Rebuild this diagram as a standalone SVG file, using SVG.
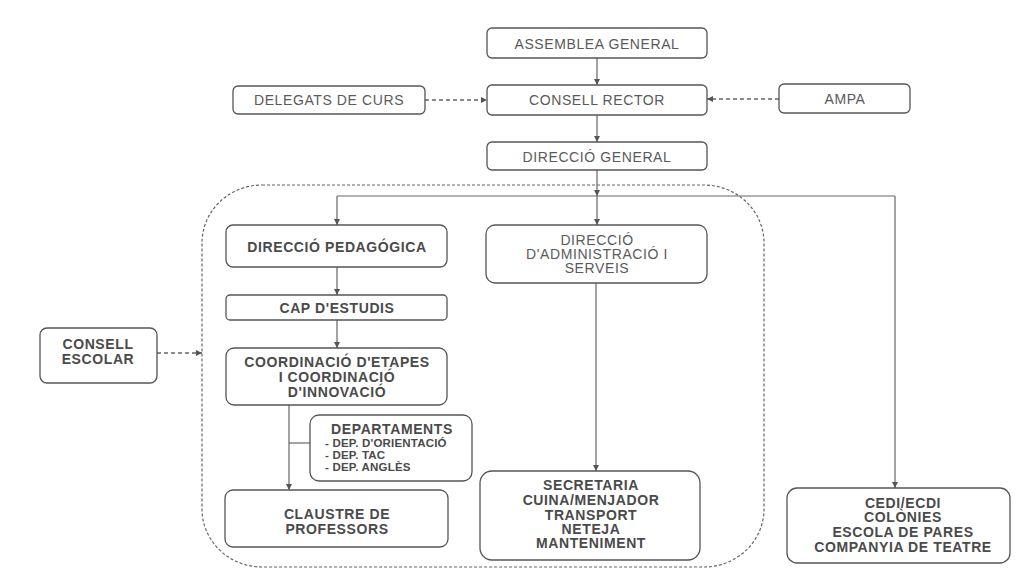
<svg xmlns="http://www.w3.org/2000/svg" width="1033" height="583" viewBox="0 0 1033 583">
<defs>
<marker id="ah" markerUnits="userSpaceOnUse" markerWidth="8" markerHeight="8" refX="6" refY="3" orient="auto">
<path d="M0,0 L6,3 L0,6 Z" fill="#555"/>
</marker>
<style>
.box{fill:#fff;stroke:#555;stroke-width:1.3}
.t{font-family:"Liberation Sans",Arial,sans-serif;font-size:14px;fill:#5a5a5a;text-anchor:middle;dominant-baseline:central;letter-spacing:0.6px}
.b{font-weight:bold;fill:#4a4a4a}
.s{font-family:"Liberation Sans",Arial,sans-serif;font-size:11.5px;font-weight:bold;fill:#4a4a4a;dominant-baseline:central;letter-spacing:0.2px}
.ln{fill:none;stroke:#666;stroke-width:1.2}
.dl{fill:none;stroke:#666;stroke-width:1.3;stroke-dasharray:4 3}
.cont{fill:none;stroke:#666;stroke-width:1.2;stroke-dasharray:3 2}
</style>
</defs>
<rect width="1033" height="583" fill="#fff"/>
<g id="container">
<rect class="cont" x="202" y="185" width="562" height="382" rx="60" ry="58"/>
</g>
<g id="connectors">
<line class="ln" x1="597" y1="58" x2="597" y2="85" marker-end="url(#ah)"/>
<line class="ln" x1="597" y1="115" x2="597" y2="142" marker-end="url(#ah)"/>
<line class="dl" x1="425" y1="100" x2="487" y2="100" marker-end="url(#ah)"/>
<line class="dl" x1="779" y1="99" x2="707" y2="99" marker-end="url(#ah)"/>
<line class="ln" x1="597" y1="170" x2="597" y2="196" marker-end="url(#ah)"/>
<line class="ln" x1="337" y1="196" x2="895" y2="196"/>
<line class="ln" x1="337" y1="196" x2="337" y2="225" marker-end="url(#ah)"/>
<line class="ln" x1="895" y1="196" x2="895" y2="488" marker-end="url(#ah)"/>
<line class="ln" x1="597" y1="196" x2="597" y2="225" marker-end="url(#ah)"/>
<line class="ln" x1="337" y1="267" x2="337" y2="295" marker-end="url(#ah)"/>
<line class="ln" x1="337" y1="320" x2="337" y2="348" marker-end="url(#ah)"/>
<line class="ln" x1="596" y1="283" x2="596" y2="471" marker-end="url(#ah)"/>
<line class="ln" x1="289" y1="405" x2="289" y2="490" marker-end="url(#ah)"/>
<line class="ln" x1="289" y1="443" x2="310" y2="443"/>
<line class="dl" x1="157" y1="353" x2="202" y2="353" marker-end="url(#ah)"/>
</g>
<g id="assemblea">
<rect class="box" x="487" y="28" width="220" height="30" rx="5"/>
<text class="t" x="597" y="44">ASSEMBLEA GENERAL</text>
</g>
<g id="consell-rector">
<rect class="box" x="487" y="85" width="220" height="30" rx="5"/>
<text class="t" x="597" y="100">CONSELL RECTOR</text>
</g>
<g id="delegats">
<rect class="box" x="233" y="86" width="192" height="28" rx="5"/>
<text class="t" x="329" y="100">DELEGATS DE CURS</text>
</g>
<g id="ampa">
<rect class="box" x="779" y="84" width="131" height="29" rx="5"/>
<text class="t" x="845" y="99">AMPA</text>
</g>
<g id="direccio-general">
<rect class="box" x="487" y="142" width="220" height="28" rx="5"/>
<text class="t" x="597" y="157">DIRECCIÓ GENERAL</text>
</g>
<g id="direccio-pedagogica">
<rect class="box" x="226" y="225" width="221" height="42" rx="7"/>
<text class="t b" x="337" y="247">DIRECCIÓ PEDAGÓGICA</text>
</g>
<g id="direccio-admin">
<rect class="box" x="486" y="225" width="221" height="58" rx="9"/>
<text class="t" x="597" y="240">DIRECCIÓ</text>
<text class="t" x="597" y="254">D'ADMINISTRACIÓ I</text>
<text class="t" x="597" y="268">SERVEIS</text>
</g>
<g id="cap-estudis">
<rect class="box" x="226" y="295" width="221" height="25" rx="4"/>
<text class="t b" x="337" y="308">CAP D'ESTUDIS</text>
</g>
<g id="consell-escolar">
<rect class="box" x="40" y="328" width="117" height="55" rx="7"/>
<text class="t b" x="98" y="344">CONSELL</text>
<text class="t b" x="98" y="359">ESCOLAR</text>
</g>
<g id="coordinacio">
<rect class="box" x="226" y="348" width="221" height="57" rx="8"/>
<text class="t b" x="337" y="362">COORDINACIÓ D'ETAPES</text>
<text class="t b" x="337" y="377">I COORDINACIÓ</text>
<text class="t b" x="337" y="392">D'INNOVACIÓ</text>
</g>
<g id="departaments">
<rect class="box" x="310" y="415" width="162" height="66" rx="9"/>
<text class="t b" x="392" y="429">DEPARTAMENTS</text>
<text class="s" x="325" y="443">- DEP. D'ORIENTACIÓ</text>
<text class="s" x="325" y="455">- DEP. TAC</text>
<text class="s" x="325" y="467">- DEP. ANGLÈS</text>
</g>
<g id="claustre">
<rect class="box" x="225" y="490" width="223" height="57" rx="8"/>
<text class="t b" x="337" y="514">CLAUSTRE DE</text>
<text class="t b" x="337" y="529">PROFESSORS</text>
</g>
<g id="secretaria">
<rect class="box" x="480" y="471" width="220" height="89" rx="12"/>
<text class="t b" x="591" y="485">SECRETARIA</text>
<text class="t b" x="591" y="500">CUINA/MENJADOR</text>
<text class="t b" x="591" y="515">TRANSPORT</text>
<text class="t b" x="591" y="529">NETEJA</text>
<text class="t b" x="591" y="543">MANTENIMENT</text>
</g>
<g id="cedi">
<rect class="box" x="787" y="488" width="223" height="75" rx="10"/>
<text class="t b" x="903" y="503">CEDI/ECDI</text>
<text class="t b" x="903" y="517">COLÒNIES</text>
<text class="t b" x="903" y="532">ESCOLA DE PARES</text>
<text class="t b" x="903" y="547">COMPANYIA DE TEATRE</text>
</g>
</svg>
